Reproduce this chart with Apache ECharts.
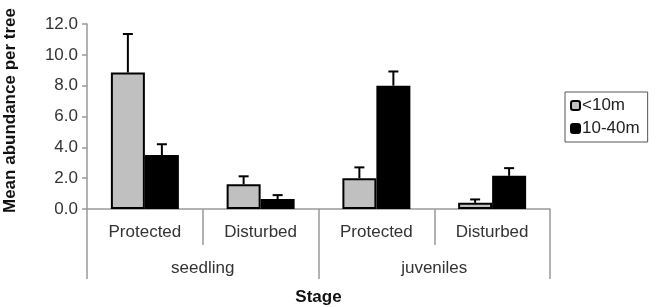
<!DOCTYPE html>
<html>
<head>
<meta charset="utf-8">
<script src="https://cdn.jsdelivr.net/npm/echarts@6/dist/echarts.min.js"></script>
<style>
  html, body { margin: 0; padding: 0; background: #fff; }
  #chart { width: 658px; height: 307px; }
</style>
</head>
<body>
<div id="chart"></div>
<script>
// categories
const sites = ['Protected', 'Disturbed', 'Protected', 'Disturbed']
const stages = ['seedling', 'juveniles']

// <10m series
const nearMeans = [8.85, 1.6, 2.0, 0.4]
const nearSe = [2.5, 0.52, 0.7, 0.22]

// 10-40m series
const farMeans = [3.5, 0.65, 8.0, 2.15]
const farSe = [0.7, 0.25, 0.92, 0.5]

const FONT = 'Liberation Sans, Arial, sans-serif'
const BAR_W = 34

const chart = echarts.init(document.getElementById('chart'))

// error bars (upper only) drawn at the bar centre
const errSeries = (means, se, dx) => ({
  type: 'custom',
  xAxisIndex: 0,
  z: 5,
  data: means.map((m, i) => [i, m, m + se[i]]),
  encode: { x: 0, y: [1, 2] },
  renderItem: (params, api) => {
    const base = api.coord([api.value(0), api.value(1)])
    const top = api.coord([api.value(0), api.value(2)])
    const x = base[0] + dx
    const style = { stroke: '#000', lineWidth: 2 }
    return {
      type: 'group',
      children: [
        { type: 'line', shape: { x1: x, y1: base[1], x2: x, y2: top[1] }, style },
        { type: 'line', shape: { x1: x - 5, y1: top[1], x2: x + 5, y2: top[1] }, style }
      ]
    }
  }
})

const option = {
  animation: false,
  textStyle: { fontFamily: FONT },
  grid: { left: 87, right: 108, top: 24, bottom: 98, outerBoundsMode: 'none' },
  legend: {
    orient: 'vertical',
    left: 565,
    top: 92,
    padding: [5, 8, 5, 5],
    itemGap: 6,
    itemWidth: 9,
    itemHeight: 9,
    borderColor: '#555',
    borderWidth: 1,
    borderRadius: 0,
    data: ['<10m', '10-40m'],
    textStyle: { fontSize: 17, color: '#222', padding: [0, 0, 0, -3] }
  },
  xAxis: [
    {
      type: 'category',
      data: sites,
      axisLine: { lineStyle: { color: '#999', width: 1.5 } },
      axisTick: { show: true, interval: 0, length: 36, lineStyle: { color: '#999', width: 1.5 } },
      axisLabel: { fontSize: 17, color: '#333', margin: 15 }
    },
    {
      type: 'category',
      data: stages,
      position: 'bottom',
      axisLine: { show: false },
      axisTick: { show: true, interval: 0, length: 70, lineStyle: { color: '#999', width: 1.5 } },
      axisLabel: { fontSize: 17, color: '#333', margin: 51 },
      name: 'Stage',
      nameLocation: 'middle',
      nameGap: 80,
      nameTextStyle: { fontSize: 17, fontWeight: 'bold', color: '#111' }
    }
  ],
  yAxis: {
    type: 'value',
    min: 0,
    max: 12,
    interval: 2,
    name: 'Mean abundance per tree',
    nameLocation: 'middle',
    nameGap: 68,
    nameTextStyle: { fontSize: 17, fontWeight: 'bold', color: '#111', padding: [0, 0, 0, 12] },
    axisLine: { show: true, lineStyle: { color: '#999', width: 1.5 } },
    axisTick: { show: true, length: 5, lineStyle: { color: '#999', width: 1.5 } },
    axisLabel: { fontSize: 17, color: '#333', margin: 9, formatter: v => v.toFixed(1) },
    splitLine: { show: false }
  },
  series: [
    {
      name: '<10m',
      type: 'bar',
      xAxisIndex: 0,
      barWidth: BAR_W,
      barGap: '0%',
      data: nearMeans,
      itemStyle: { color: '#c0c0c0', borderColor: '#000', borderWidth: 2 }
    },
    {
      name: '10-40m',
      type: 'bar',
      xAxisIndex: 0,
      barWidth: BAR_W,
      barGap: '0%',
      data: farMeans,
      itemStyle: { color: '#000', borderColor: '#000', borderWidth: 2 }
    },
    errSeries(nearMeans, nearSe, -BAR_W / 2),
    errSeries(farMeans, farSe, BAR_W / 2)
  ]
}

chart.setOption(option)
</script>
</body>
</html>
